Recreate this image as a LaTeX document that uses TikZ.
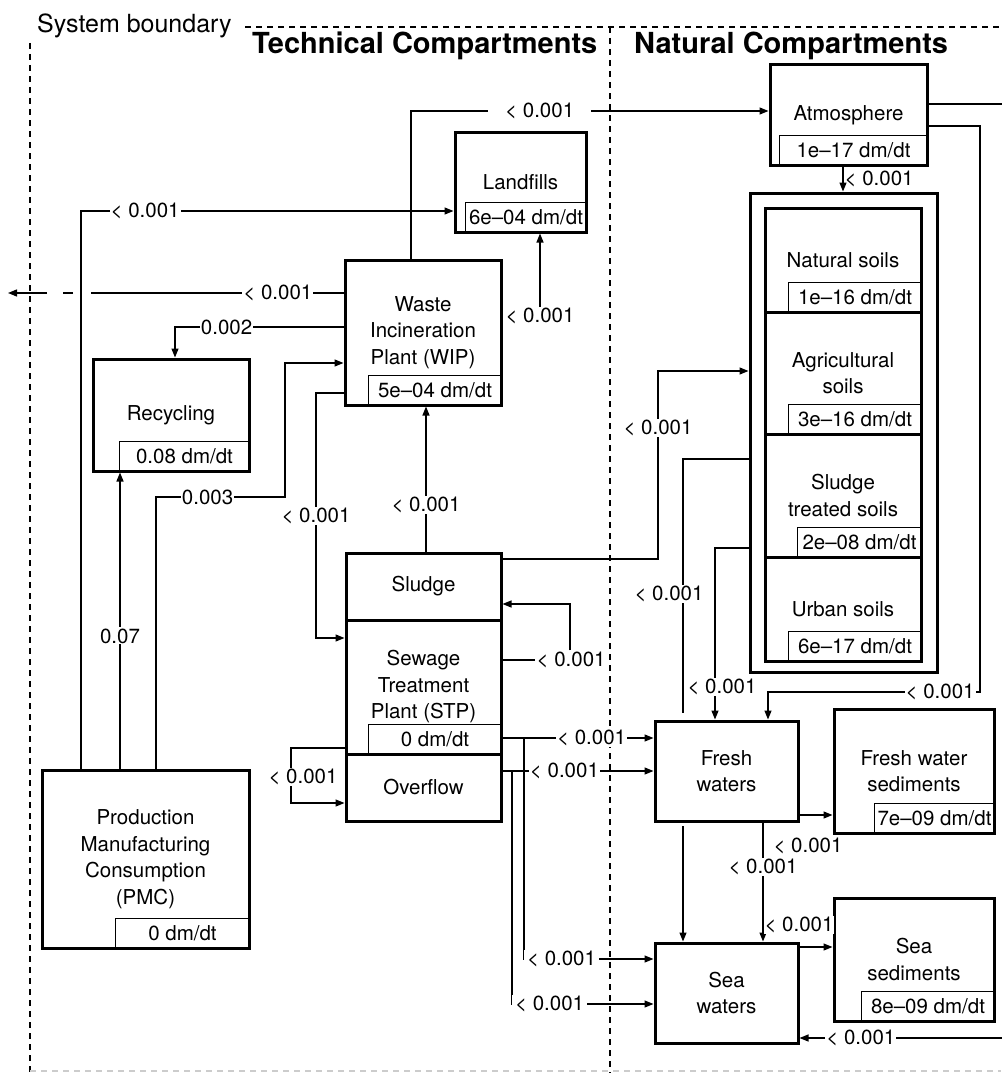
\documentclass[tikz,border=0pt]{standalone}
\usepackage{fontspec}
\setmainfont{TeX Gyre Heros}
\usetikzlibrary{arrows.meta}

\begin{document}
\begin{tikzpicture}[x=1pt, y=-1pt,
    every node/.style={font=\fontsize{20.5}{26.5}\selectfont},
    comp/.style={draw, line width=3pt, align=center, inner sep=0pt},
    val/.style={draw, line width=1pt, anchor=south east, inner sep=0pt, minimum height=31pt},
    lab/.style={fill=white, inner sep=1pt},
    pipe/.style={line width=1.3pt},
    flow/.style={line width=1.3pt, -{Triangle[length=9pt, width=7pt]}},
    bound/.style={line width=1.2pt, dash pattern=on 6pt off 5pt}]
  \useasboundingbox (0,0) rectangle (1001,1073);

  % system boundary and headings
  \draw[bound] (245,27) -- (1001,27);
  \draw[bound] (30,43) -- (30,1073);
  \draw[bound] (610,27) -- (610,1073);
  \draw[bound, gray!40] (30,1071) -- (1001,1071);
  \node[anchor=base west, inner sep=0pt, font=\fontsize{25}{30}\selectfont] (sysb) at (37,33) {System boundary};
  \node[anchor=base west, inner sep=0pt, font=\fontsize{29}{34}\selectfont\bfseries] (techc) at (252,54) {Technical Compartments};
  \node[anchor=base west, inner sep=0pt, font=\fontsize{29}{34}\selectfont\bfseries] (natc) at (634,54) {Natural Compartments};

  % technical compartments
  \node[comp, minimum width=131pt, minimum height=100pt] (land) at (520.5,182) {Landfills};
  \node[val, minimum width=122pt] (landv) at (land.south east) {6e--04 dm/dt};
  \node[comp, minimum width=156pt, minimum height=145pt] (wip) at (423,332.5) {Waste\\Incineration\\Plant (WIP)};
  \node[val, minimum width=134pt] (wipv) at (wip.south east) {5e--04 dm/dt};
  \node[comp, minimum width=156pt, minimum height=112pt] (rec) at (171,415) {Recycling};
  \node[val, minimum width=131pt] (recv) at (rec.south east) {0.08 dm/dt};
  \node[comp, minimum width=155pt, minimum height=67pt] (sludge) at (423.5,586.5) {Sludge};
  \node[comp, minimum width=155pt, minimum height=134pt] (stp) at (423.5,687) {Sewage\\Treatment\\Plant (STP)};
  \node[val, minimum width=134pt] (stpv) at (stp.south east) {0 dm/dt};
  \node[comp, minimum width=155pt, minimum height=67pt] (ovf) at (423.5,787.5) {Overflow};
  \node[comp, minimum width=207pt, minimum height=178pt] (pmc) at (145.5,859) {Production\\Manufacturing\\Consumption\\(PMC)};
  \node[val, minimum width=135pt] (pmcv) at (pmc.south east) {0 dm/dt};

  % natural compartments
  \node[comp, minimum width=157pt, minimum height=100pt] (atm) at (848.5,115) {Atmosphere};
  \node[val, minimum width=149pt] (atmv) at (atm.south east) {1e--17 dm/dt};
  \node[comp, minimum width=187pt, minimum height=479pt] (soils) at (843.5,432.5) {};
  \node[comp, minimum width=156pt, minimum height=104pt] (nat) at (843,260) {Natural soils};
  \node[val, minimum width=134pt] (natv) at (nat.south east) {1e--16 dm/dt};
  \node[comp, minimum width=156pt, minimum height=122pt] (agr) at (843,373) {Agricultural\\soils};
  \node[val, minimum width=134pt] (agrv) at (agr.south east) {3e--16 dm/dt};
  \node[comp, minimum width=156pt, minimum height=123pt] (sts) at (843,495.5) {Sludge\\treated soils};
  \node[val, minimum width=125pt] (stsv) at (sts.south east) {2e--08 dm/dt};
  \node[comp, minimum width=156pt, minimum height=104pt] (urb) at (843,609) {Urban soils};
  \node[val, minimum width=134pt] (urbv) at (urb.south east) {6e--17 dm/dt};
  \node[comp, minimum width=143pt, minimum height=100pt] (fresh) at (726.5,771) {Fresh\\waters};
  \node[comp, minimum width=160pt, minimum height=124pt] (fws) at (914,771) {Fresh water\\sediments};
  \node[val, minimum width=121pt] (fwsv) at (fws.south east) {7e--09 dm/dt};
  \node[comp, minimum width=143pt, minimum height=100pt] (sea) at (726.5,993) {Sea\\waters};
  \node[comp, minimum width=160pt, minimum height=123pt] (seased) at (914,959.5) {Sea\\sediments};
  \node[val, minimum width=134pt] (seasedv) at (seased.south east) {8e--09 dm/dt};

  \coordinate (out) at (8,293);

  % flows from the technical compartments
  \draw[pipe] (wip.west |- 0,293) -- node[lab, pos=0.26] {< 0.001} (91,293);
  \draw[flow, dash pattern=on 10pt off 16pt on 60pt off 1pt] (73,293) -- (out);
  \draw[flow] (pmc.north -| 81,0) |- node[lab, pos=0.586] {< 0.001} (land.west |- 0,211);
  \draw[flow] (wip.west |- 0,327) -| node[lab, pos=0.347] {0.002} (rec.north -| 175,0);
  \draw[flow] (pmc.north -| 120,0) -- node[lab, pos=0.448] {0.07} (rec.south -| 120,0);
  \draw[flow] (pmc.north -| 156,0) |- node[lab, pos=0.7] {0.003} (285,497) |- (wip.west |- 0,363);
  \draw[flow] (wip.west |- 0,393) -| node[lab, pos=0.751] {< 0.001} (316,638) -- (stp.west |- 0,638);
  \draw[flow] (wip.north -| 411,0) |- node[lab, inner xsep=17pt, pos=0.68] {< 0.001} (atm.west |- 0,111);
  \node[lab] (wipland) at (540,316) {< 0.001};
  \draw[flow] (wipland) -- (wipland |- land.south);
  \draw[flow] (sludge.north -| 426,0) -- node[lab, pos=0.318] {< 0.001} (wip.south -| 426,0);
  \draw[flow] (sludge.east |- 0,559) -| node[lab, pos=0.848] {< 0.001} (658,371) -- (soils.west |- 0,371);
  \draw[flow] (stp.east |- 0,660) -- (535,660) node[lab, anchor=west] (stpsl) {< 0.001}
    (stpsl.north -| 570,0) |- (sludge.east |- 0,604);
  \draw[flow] (stp.west |- 0,748) -| node[lab, pos=0.764, xshift=12pt] {< 0.001} (291,803) -- (ovf.west |- 0,803);
  \draw[flow] (stp.east |- 0,738) -- node[lab, pos=0.59] {< 0.001} (fresh.west |- 0,738);
  \draw[flow] (ovf.east |- 0,771) -- node[lab, pos=0.41] {< 0.001} (fresh.west |- 0,771);
  \draw[flow] (524,738) |- node[lab, inner xsep=3pt, pos=0.645] {< 0.001} (sea.west |- 0,959);
  \draw[flow] (512,771) |- node[lab, inner xsep=3pt, pos=0.633] {< 0.001} (sea.west |- 0,1004);

  % flows between the natural compartments
  \draw[flow] (atm.south -| 843,0) -- node[anchor=west, inner sep=1pt] {< 0.001} (soils.north -| 843,0);
  \draw[flow] (atm.east |- 0,126) -| (980,692) -| node[lab, pos=0.094] {< 0.001} (fresh.north -| 768,0);
  \draw[flow] (atm.east |- 0,104) -| (1004,1038) -- node[lab, pos=0.70] {< 0.001} (sea.east |- 0,1038);
  \draw[pipe] (soils.west |- 0,459) -| node[lab, pos=0.766, xshift=-14pt] {< 0.001} (683,713);
  \draw[flow] (683,826) -- (sea.north -| 683,0);
  \draw[flow] (soils.west |- 0,548) -| node[lab, pos=0.904, xshift=7pt] {< 0.001} (fresh.north -| 715,0);
  \draw[flow] (fresh.east |- 0,815) -- (fws.west |- 0,815) node[lab] at (808,846) {< 0.001};
  \draw[flow] (fresh.south -| 763,0) -- node[lab, pos=0.37] {< 0.001} (sea.north -| 763,0);
  \draw[flow] (sea.east |- 0,947) -- (seased.west |- 0,947) node[lab] at (799,925) {< 0.001};
\end{tikzpicture}
\end{document}
